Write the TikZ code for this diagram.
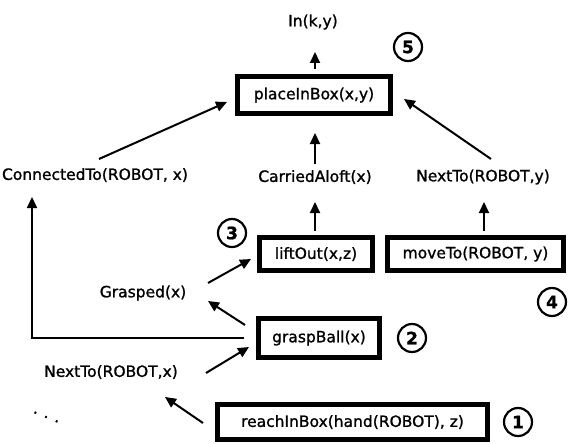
\documentclass[tikz,border=0pt]{standalone}
\usepackage{fontspec}
\setmainfont{DejaVu Sans}[FakeBold=1.2]
\usetikzlibrary{arrows.meta,calc}

\tikzset{
  lbl/.style={font=\fontsize{15.5}{18}\selectfont, inner sep=1pt},
  opbox/.style={draw, line width=4.5pt, font=\fontsize{15.5}{18}\selectfont,
    inner sep=0pt, align=center},
  num/.style={circle, draw, line width=2.2pt, minimum size=28pt, inner sep=0pt,
    font=\bfseries\fontsize{17}{20}\selectfont},
  link/.style={line width=2pt, -{Triangle[length=11pt,width=10pt]}}
}

\begin{document}
\begin{tikzpicture}[x=1pt,y=-1pt]
\useasboundingbox (0,0) rectangle (568,444);

% goal and plan steps
\node[lbl] (ink) at (313,22) {In(k,y)};
\node[opbox, minimum width=153pt, minimum height=37pt] (place) at (314,95) {placeInBox(x,y)};

\node[lbl] (cto) at (95,175) {ConnectedTo(ROBOT, x)};
\node[lbl] (carried) at (315,177) {CarriedAloft(x)};
\node[lbl] (nty) at (483,177) {NextTo(ROBOT,y)};

\node[opbox, minimum width=113pt, minimum height=33pt] (lift) at (316,254) {liftOut(x,z)};
\node[opbox, minimum width=176pt, minimum height=33pt] (move) at (475.5,254) {moveTo(ROBOT, y)};

\node[lbl] (grasped) at (143,293) {Grasped(x)};
\node[opbox, minimum width=121pt, minimum height=39pt] (grasp) at (319,338) {graspBall(x)};

\node[lbl] (ntx) at (111,372) {NextTo(ROBOT,x)};
\node[lbl, rotate=-22] (dots) at (46,417) {. . .};
\node[opbox, minimum width=270pt, minimum height=35pt] (reach) at (352.5,422) {reachInBox(hand(ROBOT), z)};

% step numbers
\node[num] (c5) at (408,47) {5};
\node[num] (c3) at (232,233) {3};
\node[num] (c4) at (552,302) {4};
\node[num] (c2) at (412,338) {2};
\node[num] (c1) at (518,422) {1};

% connectors
\draw[link] ($(place)+(1,-26)$) -- ($(ink)+(2,30)$);
\draw[link] ($(carried)+(0,-13)$) -- ($(place)+(1,38)$);
\draw[link] ($(cto)+(4,-16)$) -- ($(place)+(-87,7)$);
\draw[link] ($(nty)+(8,-18)$) -- ($(place)+(90,4)$);
\draw[link] ($(lift)+(-1,-23)$) -- ($(carried)+(0,25)$);
\draw[link] ($(move)+(8.5,-23)$) -- ($(nty)+(1,25)$);
\draw[link] ($(grasp)+(-75,0)$) -| ($(cto)+(-63,22)$);
\draw[link] ($(grasped)+(65,-10)$) -- ($(lift)+(-65,5)$);
\draw[link] ($(grasp)+(-74,-13)$) -- ($(grasped)+(65,8)$);
\draw[link] ($(ntx)+(95,1)$) -- ($(grasp)+(-70,9)$);
\draw[link] ($(reach)+(-149.5,1)$) -- ($(ntx)+(54,25)$);
\end{tikzpicture}
\end{document}
